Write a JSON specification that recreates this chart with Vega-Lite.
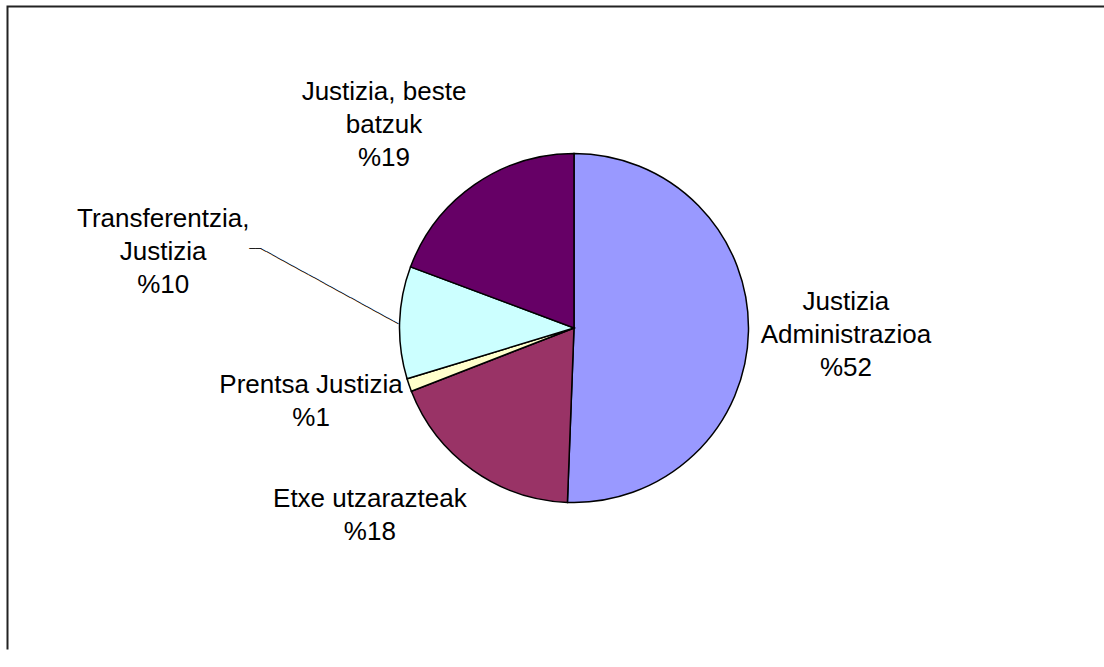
{
  "$schema": "https://vega.github.io/schema/vega-lite/v6.json",
  "autosize": "none",
  "width": 1133,
  "height": 643,
  "padding": {"left": 7.5, "top": 6.5, "right": 0, "bottom": 0},
  "background": "white",
  "data": {
    "values": [
      {"k": "Justizia Administrazioa", "v": 50.6, "i": 1, "label": "Justizia\nAdministrazioa\n%52"},
      {"k": "Etxe utzarazteak", "v": 18.5, "i": 2, "label": "Etxe utzarazteak\n%18"},
      {"k": "Prentsa Justizia", "v": 1.2, "i": 3, "label": "Prentsa Justizia\n%1"},
      {"k": "Transferentzia, Justizia", "v": 10.4, "i": 4, "label": "Transferentzia,\nJustizia\n%10"},
      {"k": "Justizia, beste batzuk", "v": 19.3, "i": 5, "label": "Justizia, beste\nbatzuk\n%19"}
    ]
  },
  "layer": [
    {
      "mark": {"type": "point", "opacity": 0},
      "encoding": {
        "x": {"field": "v", "type": "quantitative", "axis": null},
        "y": {"field": "i", "type": "quantitative", "axis": null}
      }
    },
    {
      "mark": {"type": "arc", "outerRadius": 174.5, "stroke": "#000", "strokeWidth": 1.5},
      "encoding": {
        "theta": {"field": "v", "type": "quantitative", "stack": true},
        "order": {"field": "i", "type": "quantitative"},
        "color": {
          "field": "k", "type": "nominal", "legend": null,
          "scale": {
            "domain": ["Justizia Administrazioa", "Etxe utzarazteak", "Prentsa Justizia", "Transferentzia, Justizia", "Justizia, beste batzuk"],
            "range": ["#9999FF", "#993366", "#FFFFCC", "#CCFFFF", "#660066"]
          }
        }
      }
    },
    {
      "mark": {"type": "text", "radius": 272, "dy": -31, "fontSize": 26, "lineHeight": 33, "lineBreak": "\n", "align": "center", "baseline": "middle", "font": "Liberation Sans", "color": "#000"},
      "encoding": {
        "theta": {"field": "v", "type": "quantitative", "stack": true},
        "order": {"field": "i", "type": "quantitative"},
        "text": {"condition": {"test": "datum.i == 1", "field": "label"}, "value": ""}
      }
    },
    {
      "mark": {"type": "text", "radius": 276, "dx": -44, "dy": -54, "fontSize": 26, "lineHeight": 33, "lineBreak": "\n", "align": "center", "baseline": "middle", "font": "Liberation Sans", "color": "#000"},
      "encoding": {
        "theta": {"field": "v", "type": "quantitative", "stack": true},
        "order": {"field": "i", "type": "quantitative"},
        "text": {"condition": {"test": "datum.i == 2", "field": "label"}, "value": ""}
      }
    },
    {
      "mark": {"type": "text", "radius": 274, "dx": -4, "dy": -32.5, "fontSize": 26, "lineHeight": 33, "lineBreak": "\n", "align": "center", "baseline": "middle", "font": "Liberation Sans", "color": "#000"},
      "encoding": {
        "theta": {"field": "v", "type": "quantitative", "stack": true},
        "order": {"field": "i", "type": "quantitative"},
        "text": {"condition": {"test": "datum.i == 3", "field": "label"}, "value": ""}
      }
    },
    {
      "mark": {"type": "text", "radius": 417, "dx": 6, "dy": -96, "fontSize": 26, "lineHeight": 33, "lineBreak": "\n", "align": "center", "baseline": "middle", "font": "Liberation Sans", "color": "#000"},
      "encoding": {
        "theta": {"field": "v", "type": "quantitative", "stack": true},
        "order": {"field": "i", "type": "quantitative"},
        "text": {"condition": {"test": "datum.i == 4", "field": "label"}, "value": ""}
      }
    },
    {
      "mark": {"type": "text", "radius": 279, "dx": -31, "dy": -7, "fontSize": 26, "lineHeight": 33, "lineBreak": "\n", "align": "center", "baseline": "middle", "font": "Liberation Sans", "color": "#000"},
      "encoding": {
        "theta": {"field": "v", "type": "quantitative", "stack": true},
        "order": {"field": "i", "type": "quantitative"},
        "text": {"condition": {"test": "datum.i == 5", "field": "label"}, "value": ""}
      }
    },
    {
      "mark": {"type": "text", "radius": 175, "angle": 28.7, "dy": 2, "fontSize": 10, "align": "right", "baseline": "middle", "font": "DejaVu Sans Mono", "color": "#000"},
      "encoding": {
        "theta": {"field": "v", "type": "quantitative", "stack": true},
        "order": {"field": "i", "type": "quantitative"},
        "text": {"condition": {"test": "datum.i == 4", "value": "──────────────────────────"}, "value": ""}
      }
    },
    {
      "mark": {"type": "text", "radius": 319, "dy": -69, "fontSize": 10, "align": "center", "baseline": "middle", "font": "DejaVu Sans Mono", "color": "#000"},
      "encoding": {
        "theta": {"field": "v", "type": "quantitative", "stack": true},
        "order": {"field": "i", "type": "quantitative"},
        "text": {"condition": {"test": "datum.i == 4", "value": "──"}, "value": ""}
      }
    }
  ],
  "config": {
    "view": {"stroke": "#222", "strokeWidth": 2, "strokeDash": [1133, 1776, 643]},
    "text": {"font": "Liberation Sans"}
  }
}
